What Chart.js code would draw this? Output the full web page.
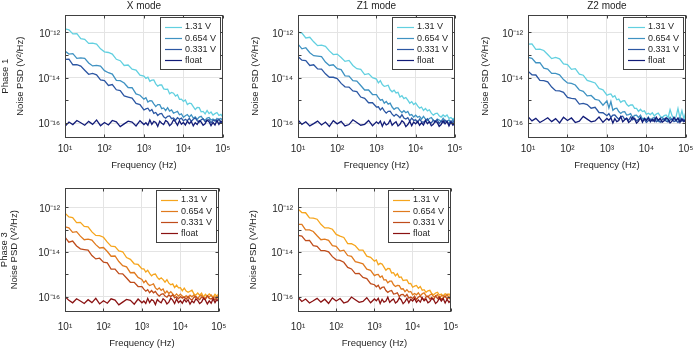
<!DOCTYPE html>
<html>
<head>
<meta charset="utf-8">
<script src="https://cdn.jsdelivr.net/npm/chart.js@4.4.0/dist/chart.umd.min.js"></script>
<style>
  html, body { margin: 0; padding: 0; background: #fff; }
  #wrap { position: relative; width: 700px; height: 351px; overflow: hidden; }
  #wrap canvas { position: absolute; }
</style>
</head>
<body>
<div id="wrap">
  <canvas id="pX1"></canvas>
  <canvas id="pZ11"></canvas>
  <canvas id="pZ21"></canvas>
  <canvas id="pX3"></canvas>
  <canvas id="pZ13"></canvas>
</div>
<script>
// Noise PSD vs frequency, two phases x three modes (Z2 only measured in phase 1)

const freqHz = [10, 12.6, 15.8, 20, 25.1, 31.6, 39.8, 50.1, 63.1, 79.4,
  100, 126, 158, 200, 251, 316, 398, 501, 631, 794,
  1000, 1122, 1259, 1413, 1585, 1778, 1995, 2239, 2512, 2818,
  3162, 3548, 3981, 4467, 5012, 5623, 6310, 7079, 7943, 8913,
  10000, 11220, 12589, 14125, 15849, 17783, 19953, 22387, 25119, 28184,
  31623, 35481, 39811, 44668, 50119, 56234, 63096, 70795, 79433, 89125, 100000];

const seriesLabels = ['1.31 V', '0.654 V', '0.331 V', 'float'];
const xTickValues = [10, 100, 1000, 10000, 100000];
const yTickValues = [1e-16, 1e-14, 1e-12];

const phase1Colors = ['#62d0e0', '#3f92c2', '#2c57a3', '#121c78'];
const phase3Colors = ['#f6a51d', '#e07a1e', '#bf4c1b', '#8a1212'];

// log10 of PSD (V^2/Hz) at freqHz
const xMode_p1_131 = [-11.85, -11.89, -12.07, -12.06, -12.28, -12.31, -12.49, -12.48, -12.52, -12.73,
  -12.86, -12.89, -12.96, -13.19, -13.25, -13.46, -13.44, -13.62, -13.66, -13.89,
  -13.93, -14.03, -13.98, -14.16, -14.11, -14.10, -14.27, -14.37, -14.32, -14.32,
  -14.49, -14.51, -14.50, -14.71, -14.65, -14.68, -14.81, -14.75, -14.95, -14.94,
  -15.04, -14.98, -15.18, -15.12, -15.14, -15.27, -15.40, -15.31, -15.32, -15.50,
  -15.48, -15.59, -15.44, -15.58, -15.51, -15.64, -15.58, -15.53, -15.66, -15.61, -15.74];
const xMode_p1_654 = [-12.83, -12.96, -12.94, -13.15, -13.13, -13.15, -13.35, -13.48, -13.46, -13.49,
  -13.69, -13.78, -13.84, -14.12, -14.13, -14.23, -14.43, -14.44, -14.71, -14.77,
  -14.94, -14.88, -15.07, -15.01, -15.02, -15.15, -15.27, -15.18, -15.18, -15.36,
  -15.33, -15.45, -15.32, -15.47, -15.42, -15.56, -15.52, -15.48, -15.63, -15.59,
  -15.74, -15.67, -15.62, -15.73, -15.63, -15.78, -15.72, -15.83, -15.73, -15.70,
  -15.82, -15.87, -15.78, -15.75, -15.86, -15.82, -15.91, -15.79, -15.85, -15.79, -15.90];
const xMode_p1_331 = [-13.19, -13.18, -13.43, -13.42, -13.49, -13.67, -13.85, -13.81, -13.87, -14.10,
  -14.13, -14.34, -14.30, -14.53, -14.57, -14.80, -14.85, -14.90, -15.13, -15.18,
  -15.42, -15.37, -15.34, -15.47, -15.40, -15.57, -15.53, -15.66, -15.59, -15.57,
  -15.72, -15.78, -15.70, -15.68, -15.80, -15.77, -15.87, -15.76, -15.83, -15.78,
  -15.90, -15.83, -15.89, -15.79, -15.92, -15.83, -15.77, -15.89, -15.95, -15.85,
  -15.81, -15.93, -15.89, -15.84, -15.99, -15.88, -15.86, -15.94, -15.82, -15.98, -15.91];
const xMode_p1_float = [-16.14, -15.95, -16.06, -15.88, -15.98, -16.09, -15.92, -16.05, -15.86, -16.11,
  -15.97, -16.08, -15.88, -15.94, -16.15, -16.03, -15.91, -15.95, -16.12, -15.89,
  -16.06, -15.98, -16.09, -15.86, -16.05, -15.92, -15.97, -16.14, -15.91, -16.00,
  -16.06, -15.88, -15.95, -16.11, -16.03, -15.85, -15.94, -16.09, -15.89, -16.05,
  -15.97, -16.08, -15.91, -16.02, -15.92, -16.12, -15.98, -16.06, -15.89, -15.95,
  -16.09, -16.03, -15.86, -15.94, -16.11, -15.97, -16.08, -15.88, -16.05, -15.91, -16.00];

const z1Mode_p1_131 = [-11.99, -12.04, -12.25, -12.22, -12.42, -12.59, -12.57, -12.62, -12.82, -12.98,
  -12.96, -13.11, -13.28, -13.24, -13.46, -13.60, -13.63, -13.86, -13.82, -14.00,
  -14.06, -14.23, -14.13, -14.30, -14.38, -14.36, -14.33, -14.53, -14.62, -14.55,
  -14.67, -14.64, -14.85, -14.79, -14.92, -14.87, -14.99, -15.12, -15.05, -15.18,
  -15.11, -15.24, -15.34, -15.29, -15.44, -15.35, -15.46, -15.41, -15.56, -15.65,
  -15.58, -15.56, -15.67, -15.73, -15.64, -15.71, -15.64, -15.79, -15.75, -15.84, -15.75];
const z1Mode_p1_654 = [-12.52, -12.73, -12.68, -12.90, -13.03, -13.05, -13.07, -13.31, -13.46, -13.43,
  -13.60, -13.64, -13.92, -13.93, -14.13, -14.15, -14.34, -14.54, -14.54, -14.74,
  -14.74, -14.88, -14.99, -14.96, -15.12, -15.04, -15.16, -15.12, -15.29, -15.39,
  -15.33, -15.33, -15.45, -15.53, -15.45, -15.54, -15.48, -15.65, -15.62, -15.73,
  -15.65, -15.74, -15.70, -15.82, -15.70, -15.82, -15.89, -15.79, -15.75, -15.87,
  -15.93, -15.82, -15.86, -15.93, -15.78, -15.90, -15.93, -15.86, -15.98, -15.84, -15.91];
const z1Mode_p1_331 = [-13.07, -13.23, -13.25, -13.46, -13.43, -13.61, -13.62, -13.83, -13.98, -13.98,
  -14.04, -14.25, -14.40, -14.41, -14.58, -14.61, -14.85, -14.91, -15.10, -15.10,
  -15.29, -15.28, -15.42, -15.32, -15.46, -15.56, -15.48, -15.47, -15.60, -15.69,
  -15.61, -15.67, -15.76, -15.63, -15.77, -15.82, -15.76, -15.91, -15.78, -15.88,
  -15.85, -15.96, -15.82, -15.93, -15.96, -15.89, -15.81, -15.95, -15.99, -15.87,
  -15.94, -15.85, -16.02, -15.90, -15.98, -15.87, -15.95, -16.02, -15.90, -15.98, -15.86];
const z1Mode_p1_float = [-15.86, -16.05, -15.94, -16.12, -16.02, -15.91, -16.08, -15.95, -16.14, -15.89,
  -16.03, -15.92, -16.12, -16.06, -15.85, -15.97, -16.09, -16.05, -15.88, -16.11,
  -15.94, -16.02, -15.91, -16.14, -15.95, -16.08, -16.03, -15.86, -16.09, -16.00,
  -15.94, -16.12, -16.05, -15.89, -15.97, -16.15, -16.06, -15.91, -16.11, -15.95,
  -16.03, -15.92, -16.09, -15.98, -16.08, -15.88, -16.02, -15.94, -16.11, -16.05,
  -15.91, -15.97, -16.14, -16.06, -15.89, -16.03, -15.92, -16.12, -15.95, -16.09, -16.00];

const z2Mode_p1_131 = [-12.52, -12.51, -12.75, -12.74, -12.80, -12.98, -13.16, -13.11, -13.17, -13.39,
  -13.42, -13.63, -13.60, -13.84, -13.89, -14.12, -14.17, -14.23, -14.47, -14.53,
  -14.77, -14.73, -14.71, -14.85, -14.79, -14.97, -14.94, -15.08, -15.02, -15.01,
  -15.17, -15.25, -15.20, -15.20, -15.35, -15.35, -15.48, -15.39, -15.49, -15.46,
  -15.61, -15.56, -15.62, -15.54, -15.68, -15.60, -15.56, -15.69, -15.76, -15.67,
  -15.64, -15.76, -15.40, -15.67, -15.82, -15.72, -15.35, -15.77, -15.45, -15.81, -15.50];
const z2Mode_p1_654 = [-13.10, -13.15, -13.34, -13.34, -13.58, -13.62, -13.81, -13.81, -13.87, -14.08,
  -14.23, -14.25, -14.32, -14.54, -14.60, -14.80, -14.78, -14.95, -14.99, -15.21,
  -15.02, -15.33, -15.05, -15.43, -15.36, -15.34, -15.49, -15.57, -15.50, -15.49,
  -15.64, -15.62, -15.58, -15.75, -15.66, -15.65, -15.75, -15.65, -15.82, -15.77,
  -15.84, -15.73, -15.89, -15.78, -15.75, -15.83, -15.92, -15.78, -15.74, -15.87,
  -15.81, -15.90, -15.74, -15.86, -15.79, -15.90, -15.83, -15.76, -15.89, -15.82, -15.94];
const z2Mode_p1_331 = [-13.71, -13.87, -13.88, -14.12, -14.13, -14.18, -14.41, -14.57, -14.58, -14.64,
  -14.87, -14.91, -14.93, -15.16, -15.13, -15.18, -15.34, -15.30, -15.53, -15.54,
  -15.67, -15.58, -15.74, -15.65, -15.64, -15.74, -15.83, -15.71, -15.69, -15.83,
  -15.78, -15.88, -15.73, -15.85, -15.78, -15.90, -15.84, -15.78, -15.90, -15.84,
  -15.97, -15.88, -15.82, -15.91, -15.81, -15.94, -15.87, -15.96, -15.85, -15.80,
  -15.91, -15.95, -15.86, -15.82, -15.93, -15.88, -15.97, -15.84, -15.91, -15.84, -15.95];
const z2Mode_p1_float = [-15.71, -15.90, -15.79, -15.97, -15.87, -15.76, -15.93, -15.80, -15.99, -15.74,
  -15.88, -15.77, -15.97, -15.91, -15.70, -15.82, -15.94, -15.90, -15.73, -15.96,
  -15.79, -15.87, -15.76, -15.99, -15.80, -15.93, -15.88, -15.71, -15.94, -15.85,
  -15.79, -15.97, -15.90, -15.74, -15.82, -16.00, -15.91, -15.76, -15.96, -15.80,
  -15.88, -15.77, -15.94, -15.83, -15.93, -15.73, -15.87, -15.79, -15.96, -15.90,
  -15.76, -15.82, -15.99, -15.91, -15.74, -15.88, -15.77, -15.97, -15.80, -15.94, -15.85];

const xMode_p3_131 = [-12.26, -12.43, -12.46, -12.68, -12.67, -12.85, -12.87, -13.10, -13.26, -13.27,
  -13.34, -13.56, -13.74, -13.76, -13.95, -13.99, -14.25, -14.33, -14.53, -14.56,
  -14.76, -14.76, -14.90, -14.82, -14.96, -15.07, -15.00, -14.99, -15.14, -15.23,
  -15.16, -15.24, -15.35, -15.24, -15.40, -15.47, -15.43, -15.60, -15.49, -15.61,
  -15.60, -15.74, -15.62, -15.75, -15.81, -15.76, -15.71, -15.88, -15.94, -15.84,
  -15.94, -15.85, -16.02, -15.90, -15.98, -15.88, -15.95, -16.02, -15.90, -15.98, -15.86];
const xMode_p3_654 = [-12.87, -12.92, -13.12, -13.09, -13.29, -13.45, -13.42, -13.47, -13.67, -13.82,
  -13.80, -13.98, -14.19, -14.18, -14.43, -14.61, -14.67, -14.93, -14.92, -15.14,
  -15.23, -15.38, -15.28, -15.43, -15.50, -15.47, -15.43, -15.61, -15.69, -15.61,
  -15.72, -15.66, -15.85, -15.75, -15.86, -15.78, -15.88, -15.98, -15.88, -15.98,
  -15.89, -15.98, -16.04, -15.96, -16.07, -15.94, -16.01, -15.93, -16.04, -16.09,
  -15.98, -15.94, -16.04, -16.08, -15.97, -16.02, -15.93, -16.07, -16.01, -16.08, -15.97];
const xMode_p3_331 = [-13.34, -13.56, -13.51, -13.73, -13.86, -13.89, -13.92, -14.16, -14.31, -14.28,
  -14.46, -14.49, -14.77, -14.77, -14.97, -14.98, -15.17, -15.36, -15.36, -15.55,
  -15.55, -15.67, -15.76, -15.69, -15.83, -15.73, -15.83, -15.77, -15.90, -15.98,
  -15.90, -15.87, -15.98, -16.03, -15.93, -16.00, -15.92, -16.06, -16.01, -16.10,
  -16.00, -16.07, -16.02, -16.12, -15.99, -16.10, -16.16, -16.04, -15.99, -16.09,
  -16.14, -16.02, -16.06, -16.12, -15.97, -16.08, -16.11, -16.04, -16.16, -16.01, -16.08];
const xMode_p3_float = [-16.00, -16.17, -16.28, -16.10, -16.20, -16.31, -16.14, -16.27, -16.08, -16.33,
  -16.19, -16.30, -16.10, -16.16, -16.37, -16.25, -16.13, -16.17, -16.34, -16.11,
  -16.28, -16.20, -16.31, -16.08, -16.27, -16.14, -16.19, -16.36, -16.13, -16.22,
  -16.28, -16.10, -16.17, -16.33, -16.25, -16.07, -16.16, -16.31, -16.11, -16.27,
  -16.19, -16.30, -16.13, -16.24, -16.14, -16.34, -16.20, -16.28, -16.11, -16.17,
  -16.31, -16.25, -16.08, -16.16, -16.33, -16.19, -16.30, -16.10, -16.27, -16.13, -16.22];

const z1Mode_p3_131 = [-12.07, -12.23, -12.24, -12.47, -12.48, -12.53, -12.76, -12.92, -12.92, -12.98,
  -13.21, -13.29, -13.35, -13.62, -13.63, -13.72, -13.92, -13.92, -14.19, -14.24,
  -14.41, -14.36, -14.57, -14.51, -14.54, -14.68, -14.82, -14.74, -14.75, -14.94,
  -14.93, -15.07, -14.97, -15.14, -15.12, -15.28, -15.26, -15.25, -15.42, -15.41,
  -15.58, -15.53, -15.50, -15.63, -15.55, -15.72, -15.69, -15.81, -15.74, -15.72,
  -15.87, -15.92, -15.84, -15.81, -15.93, -15.89, -15.99, -15.87, -15.94, -15.88, -16.00];
const z1Mode_p3_654 = [-12.76, -12.76, -13.01, -13.01, -13.08, -13.27, -13.45, -13.42, -13.48, -13.72,
  -13.75, -13.96, -13.92, -14.16, -14.20, -14.43, -14.48, -14.53, -14.77, -14.82,
  -15.06, -15.02, -15.01, -15.14, -15.08, -15.26, -15.24, -15.38, -15.31, -15.31,
  -15.47, -15.55, -15.50, -15.51, -15.66, -15.65, -15.78, -15.69, -15.80, -15.77,
  -15.92, -15.86, -15.92, -15.83, -15.97, -15.88, -15.83, -15.96, -16.02, -15.93,
  -15.89, -16.01, -15.98, -15.92, -16.07, -15.97, -15.94, -16.02, -15.90, -16.06, -15.99];
const z1Mode_p3_331 = [-13.25, -13.29, -13.49, -13.48, -13.72, -13.75, -13.94, -13.94, -13.99, -14.21,
  -14.35, -14.38, -14.46, -14.69, -14.76, -14.97, -14.96, -15.14, -15.19, -15.42,
  -15.47, -15.56, -15.49, -15.66, -15.59, -15.57, -15.73, -15.81, -15.75, -15.73,
  -15.89, -15.87, -15.83, -16.00, -15.91, -15.90, -16.00, -15.90, -16.07, -16.02,
  -16.09, -15.98, -16.13, -16.02, -15.99, -16.08, -16.16, -16.02, -15.98, -16.11,
  -16.04, -16.13, -15.97, -16.09, -16.01, -16.12, -16.05, -15.98, -16.10, -16.03, -16.16];
const z1Mode_p3_float = [-16.03, -16.22, -16.11, -16.29, -16.19, -16.08, -16.25, -16.12, -16.31, -16.06,
  -16.20, -16.09, -16.29, -16.23, -16.02, -16.14, -16.26, -16.22, -16.05, -16.28,
  -16.11, -16.19, -16.08, -16.31, -16.12, -16.25, -16.20, -16.03, -16.26, -16.17,
  -16.11, -16.29, -16.22, -16.06, -16.14, -16.32, -16.23, -16.08, -16.28, -16.12,
  -16.20, -16.09, -16.26, -16.15, -16.25, -16.05, -16.19, -16.11, -16.28, -16.22,
  -16.08, -16.14, -16.31, -16.23, -16.06, -16.20, -16.09, -16.29, -16.12, -16.26, -16.17];

const FONT = "'Liberation Sans', Arial, Helvetica, sans-serif";
const TEXT = '#262626';
Chart.defaults.font.family = FONT;
Chart.defaults.color = TEXT;

const SUP = {'-': '\u207B', '0': '\u2070', '1': '\u00B9', '2': '\u00B2', '3': '\u00B3',
  '4': '\u2074', '5': '\u2075', '6': '\u2076', '7': '\u2077', '8': '\u2078', '9': '\u2079'};
function powerLabel(v) {
  const e = Math.round(Math.log10(v));
  return '10' + String(e).split('').map(c => SUP[c]).join('');
}

// box around the axes, inward ticks and a legend inside the top-right corner
const boxLegendPlugin = {
  id: 'boxLegend',
  afterDatasetsDraw(chart) {
    const {ctx, chartArea: a, scales} = chart;
    const x0 = Math.round(a.left) + 0.5, y0 = Math.round(a.top) + 0.5;
    const x1 = Math.round(a.right) - 0.5, y1 = Math.round(a.bottom) - 0.5;
    ctx.save();
    ctx.strokeStyle = '#404040';
    ctx.lineWidth = 1;
    ctx.beginPath();
    xTickValues.forEach(v => {
      const px = Math.round(scales.x.getPixelForValue(v)) + 0.5;
      ctx.moveTo(px, y1); ctx.lineTo(px, y1 - 3);
      ctx.moveTo(px, y0); ctx.lineTo(px, y0 + 3);
    });
    [1e-16, 1e-15, 1e-14, 1e-13, 1e-12].forEach(v => {
      const py = Math.round(scales.y.getPixelForValue(v)) + 0.5;
      ctx.moveTo(x0, py); ctx.lineTo(x0 + 3, py);
      ctx.moveTo(x1, py); ctx.lineTo(x1 - 3, py);
    });
    ctx.stroke();
    ctx.strokeRect(x0, y0, x1 - x0, y1 - y0);

    const bw = 60, bh = 52;
    const bx = Math.round(a.right) - 3 - bw, by = Math.round(a.top) + 2;
    ctx.fillStyle = '#fff';
    ctx.fillRect(bx, by, bw, bh);
    ctx.strokeRect(bx + 0.5, by + 0.5, bw, bh);
    ctx.font = '9px ' + FONT;
    ctx.textBaseline = 'middle';
    chart.data.datasets.forEach((d, i) => {
      const y = by + 9.5 + i * 11.3;
      ctx.strokeStyle = d.borderColor;
      ctx.lineWidth = 1.2;
      ctx.beginPath();
      ctx.moveTo(bx + 5, Math.round(y) + 0.5);
      ctx.lineTo(bx + 22, Math.round(y) + 0.5);
      ctx.stroke();
      ctx.fillStyle = TEXT;
      ctx.fillText(d.label, bx + 25, y + 0.5);
    });
    ctx.restore();
  }
};

function makePanel(id, cfg) {
  const canvas = document.getElementById(id);
  canvas.width = cfg.w;
  canvas.height = cfg.h;
  canvas.style.left = cfg.left + 'px';
  canvas.style.top = cfg.top + 'px';

  new Chart(canvas, {
    type: 'line',
    data: {
      datasets: cfg.series.map((s, i) => ({
        label: seriesLabels[i],
        data: freqHz.map((f, k) => ({x: f, y: Math.pow(10, s[k])})),
        borderColor: cfg.colors[i],
        borderWidth: 1.3,
        pointRadius: 0,
        tension: 0,
        order: 4 - i
      }))
    },
    options: {
      responsive: false,
      animation: false,
      events: [],
      layout: {padding: {left: 0, right: 10, top: 0, bottom: 0}},
      plugins: {
        legend: {display: false},
        tooltip: {enabled: false},
        title: {
          display: true, text: cfg.title, fullSize: false, color: TEXT,
          font: {size: 10, weight: 'normal'}, padding: {top: 0, bottom: 3}
        }
      },
      scales: {
        x: {
          type: 'logarithmic', min: 10, max: 1e5,
          afterBuildTicks: s => { s.ticks = xTickValues.map(v => ({value: v})); },
          afterFit: s => { s.height = cfg.xAxisH; },
          ticks: {callback: v => powerLabel(v), autoSkip: false, maxRotation: 0,
                  padding: cfg.xTickPad, font: {size: 10}, color: TEXT},
          grid: {color: '#e4e4e4', drawTicks: false},
          border: {display: false},
          title: {display: true, text: 'Frequency (Hz)', color: TEXT, font: {size: 9.5},
                  padding: {top: 0, bottom: 2.3}}
        },
        y: {
          type: 'logarithmic', min: cfg.yMin, max: cfg.yMax,
          afterBuildTicks: s => { s.ticks = yTickValues.map(v => ({value: v})); },
          afterFit: s => { s.width = 65; },
          ticks: {callback: v => powerLabel(v), autoSkip: false, padding: 5, labelOffset: 1.5,
                  font: {size: 10}, color: TEXT},
          grid: {color: '#e4e4e4', drawTicks: false},
          border: {display: false},
          title: {display: true, text: cfg.yTitle, color: TEXT,
                  font: {size: 9.5, lineHeight: cfg.yLineH},
                  padding: {top: cfg.yTitlePad, bottom: 0}}
        }
      }
    },
    plugins: [boxLegendPlugin]
  });
}

const psdTitle = 'Noise PSD (V\u00B2/Hz)';
const topRow = {top: 0, h: 173, xAxisH: 35.5, xTickPad: 5.5, yMin: Math.pow(10, -16.63), yMax: Math.pow(10, -11.24)};
const botRow = {top: 173, h: 178, xAxisH: 39.5, xTickPad: 9.5, yMin: Math.pow(10, -16.67), yMax: Math.pow(10, -11.13)};

makePanel('pX1', Object.assign({}, topRow, {
  left: 0, w: 236, title: 'X mode', colors: phase1Colors,
  yTitle: ['Phase 1', psdTitle], yLineH: 1.58, yTitlePad: -2.5,
  series: [xMode_p1_131, xMode_p1_654, xMode_p1_331, xMode_p1_float]
}));
makePanel('pZ11', Object.assign({}, topRow, {
  left: 233, w: 235, title: 'Z1 mode', colors: phase1Colors,
  yTitle: psdTitle, yLineH: 1.2, yTitlePad: 16.3,
  series: [z1Mode_p1_131, z1Mode_p1_654, z1Mode_p1_331, z1Mode_p1_float]
}));
makePanel('pZ21', Object.assign({}, topRow, {
  left: 463, w: 236, title: 'Z2 mode', colors: phase1Colors,
  yTitle: psdTitle, yLineH: 1.2, yTitlePad: 16.3,
  series: [z2Mode_p1_131, z2Mode_p1_654, z2Mode_p1_331, z2Mode_p1_float]
}));
makePanel('pX3', Object.assign({}, botRow, {
  left: 0, w: 236, title: '', colors: phase3Colors,
  yTitle: ['Phase 3', psdTitle], yLineH: 1.05, yTitlePad: -1,
  series: [xMode_p3_131, xMode_p3_654, xMode_p3_331, xMode_p3_float]
}));
makePanel('pZ13', Object.assign({}, botRow, {
  left: 233, w: 235, title: '', colors: phase3Colors,
  yTitle: psdTitle, yLineH: 1.2, yTitlePad: 14.6,
  series: [z1Mode_p3_131, z1Mode_p3_654, z1Mode_p3_331, z1Mode_p3_float]
}));
</script>
</body>
</html>
